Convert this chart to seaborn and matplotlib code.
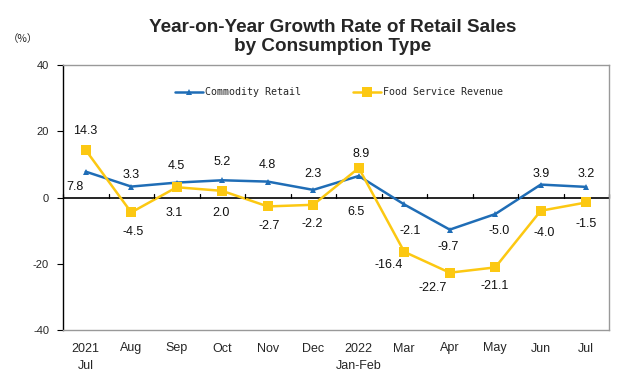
import pandas as pd
import matplotlib
matplotlib.use("Agg")
import matplotlib.pyplot as plt
import matplotlib.transforms as mtransforms
import seaborn as sns

months = ["2021\nJul", "Aug", "Sep", "Oct", "Nov", "Dec", "2022\nJan-Feb",
          "Mar", "Apr", "May", "Jun", "Jul"]
commodity = [7.8, 3.3, 4.5, 5.2, 4.8, 2.3, 6.5, -2.1, -9.7, -5.0, 3.9, 3.2]
food = [14.3, -4.5, 3.1, 2.0, -2.7, -2.2, 8.9, -16.4, -22.7, -21.1, -4.0, -1.5]
series_names = ["Commodity Retail", "Food Service Revenue"]
y_ticks = [-40, -20, 0, 20, 40]

# label nudges in pixels (dx, dy), as placed in the original chart
commodity_offsets = [(-11, -15), (0, 12), (0, 17), (0, 18), (0, 17), (0, 16),
                     (-3, -36), (6, -27), (-2, -17), (4, -17), (0, 11), (0, 13)]
food_offsets = [(-1, 19), (2, -20), (-3, -26), (-1, -22), (1, -20), (-1, -19),
                (2, 14), (-16, -13), (-17, -15), (-1, -19), (3, -22), (0, -22)]

blue = "#1F6DB6"
gold = "#FCC812"

df = pd.DataFrame({
    "idx": list(range(len(months))) * 2,
    "value": commodity + food,
    "series": [series_names[0]] * len(months) + [series_names[1]] * len(months),
})

sns.set_theme(style="white")
plt.rcParams["font.family"] = ["Liberation Sans", "DejaVu Sans"]

fig = plt.figure(figsize=(6.43, 3.86), dpi=100)
ax = fig.add_axes([63 / 643, 1 - 330 / 386, 546 / 643, 265 / 386])

sns.lineplot(
    data=df, x="idx", y="value", hue="series", style="series",
    palette={series_names[0]: blue, series_names[1]: gold},
    markers={series_names[0]: "^", series_names[1]: "s"},
    dashes=False, linewidth=1.8, markeredgewidth=0, ax=ax,
)
for line in ax.lines:
    if line.get_marker() == "^":
        line.set_markersize(5)
    elif line.get_marker() == "s":
        line.set_markersize(7)

for vals, offs in ((commodity, commodity_offsets), (food, food_offsets)):
    for i, (v, (dx, dy)) in enumerate(zip(vals, offs)):
        ax.annotate(f"{v:.1f}", (i, v), xytext=(dx, dy), textcoords="offset pixels",
                    ha="center", va="center", fontsize=9, color="#111111")

ax.set_xlim(-0.5, len(months) - 0.5)
ax.set_ylim(-40, 40)
ax.set_yticks(y_ticks)
ax.set_yticklabels([str(t) for t in y_ticks])
ax.set_xticks(range(len(months)))
ax.set_xticklabels(months, fontsize=9, linespacing=1.6)
ax.tick_params(axis="x", length=0, pad=9)
ax.tick_params(axis="y", length=4, width=0.8, direction="out", labelsize=8, pad=6,
               left=True, color="black")
ax.set_xlabel("")
ax.set_ylabel("")

for side in ["top", "right", "bottom"]:
    ax.spines[side].set_color("#999999")
    ax.spines[side].set_linewidth(1.0)
ax.spines["left"].set_color("black")
ax.spines["left"].set_linewidth(1.0)

# zero axis with category boundary ticks
ax.axhline(0, color="black", linewidth=1.2, zorder=1)
trans = mtransforms.blended_transform_factory(ax.transData, ax.transAxes)
for b in range(len(months) + 1):
    ax.plot([b - 0.5, b - 0.5], [0.5, 0.515], transform=trans, color="black",
            linewidth=0.9, clip_on=False)

handles, labels = ax.get_legend_handles_labels()
ax.legend(handles, labels, ncol=2, loc="upper center", bbox_to_anchor=(0.505, 0.95),
          frameon=False, prop={"family": "DejaVu Sans Mono", "size": 7.2},
          handlelength=2.8, handletextpad=0.2, columnspacing=5.2)

fig.text(0.517, 1 - 37 / 386, "Year-on-Year Growth Rate of Retail Sales\nby Consumption Type",
         ha="center", va="center", fontsize=13.6, fontweight="bold", linespacing=1.1)
fig.text(23 / 643, 1 - 39 / 386, "（%）", ha="center", va="center", fontsize=7.5,
         family=["Noto Sans CJK SC", "DejaVu Sans"])

fig.savefig("out.png", dpi=100)
